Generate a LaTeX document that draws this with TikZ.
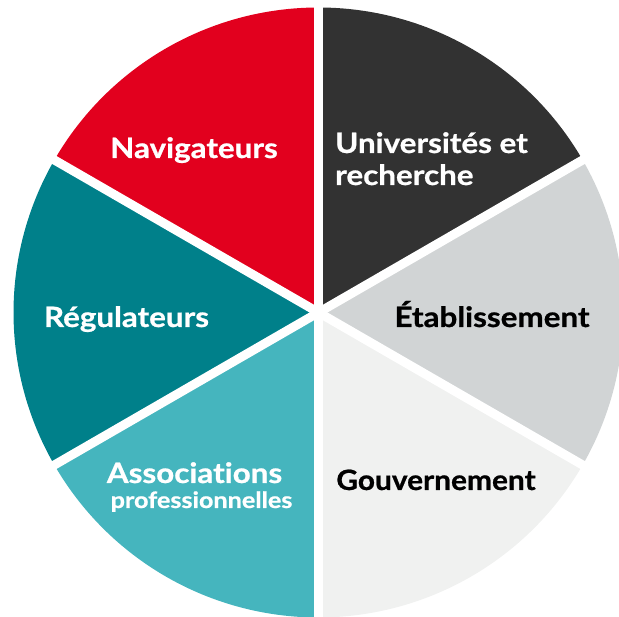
\documentclass[tikz,border=0pt]{standalone}
\usepackage{fontspec}
\setmainfont{Lato}[Ligatures={NoCommon}, BoldFeatures={FakeStretch=1.12, FakeBold=0.8}]
\definecolor{cred}{RGB}{226,0,30}
\definecolor{cdark}{RGB}{50,50,50}
\definecolor{cgrey}{RGB}{209,212,213}
\definecolor{clight}{RGB}{240,241,240}
\definecolor{cteal}{RGB}{0,128,138}
\definecolor{cteall}{RGB}{69,181,190}
\begin{document}
\begin{tikzpicture}[x=1pt,y=1pt,
  lbl/.style={font=\fontsize{28}{31}\selectfont\bfseries, inner sep=0pt},
  sublbl/.style={font=\fontsize{22.5}{25}\selectfont\bfseries, inner sep=0pt},
  gapline/.style={white, line width=9pt}]
\useasboundingbox (0,0) rectangle (619,617);
\coordinate (C) at (318.5,304.5);
\def\R{305}
\fill[cdark]  (C) -- ++(30:\R)  arc[start angle=30,  end angle=90,  radius=\R] -- cycle;
\fill[cred]   (C) -- ++(90:\R)  arc[start angle=90,  end angle=150, radius=\R] -- cycle;
\fill[cteal]  (C) -- ++(150:\R) arc[start angle=150, end angle=210, radius=\R] -- cycle;
\fill[cteall] (C) -- ++(210:\R) arc[start angle=210, end angle=270, radius=\R] -- cycle;
\fill[clight] (C) -- ++(270:\R) arc[start angle=270, end angle=330, radius=\R] -- cycle;
\fill[cgrey]  (C) -- ++(330:\R) arc[start angle=330, end angle=390, radius=\R] -- cycle;
\draw[gapline] ([shift={(90:315)}]C) -- ([shift={(270:315)}]C);
\draw[gapline] ([shift={(30:315)}]C) -- ([shift={(210:315)}]C);
\draw[gapline] ([shift={(150:315)}]C) -- ([shift={(330:315)}]C);
\node[lbl, white, anchor=base] (nav) at (194,459) {Navigateurs};
\node[lbl, white, anchor=base west] (univ1) at (335,464) {Universités et};
\node[lbl, white, anchor=base west] (univ2) at (335,432) {recherche};
\node[lbl, black, anchor=base] (etab) at (492,290) {Établissement};
\node[lbl, white, anchor=base] (regu) at (126.5,290) {Régulateurs};
\node[lbl, white, anchor=base] (asso1) at (194.5,134) {Associations};
\node[sublbl, white, anchor=base] (asso2) at (201.5,109) {professionnelles};
\node[lbl, black, anchor=base, transform shape, xscale=0.952] (gouv) at (436,127) {Gouvernement};
\end{tikzpicture}
\end{document}
